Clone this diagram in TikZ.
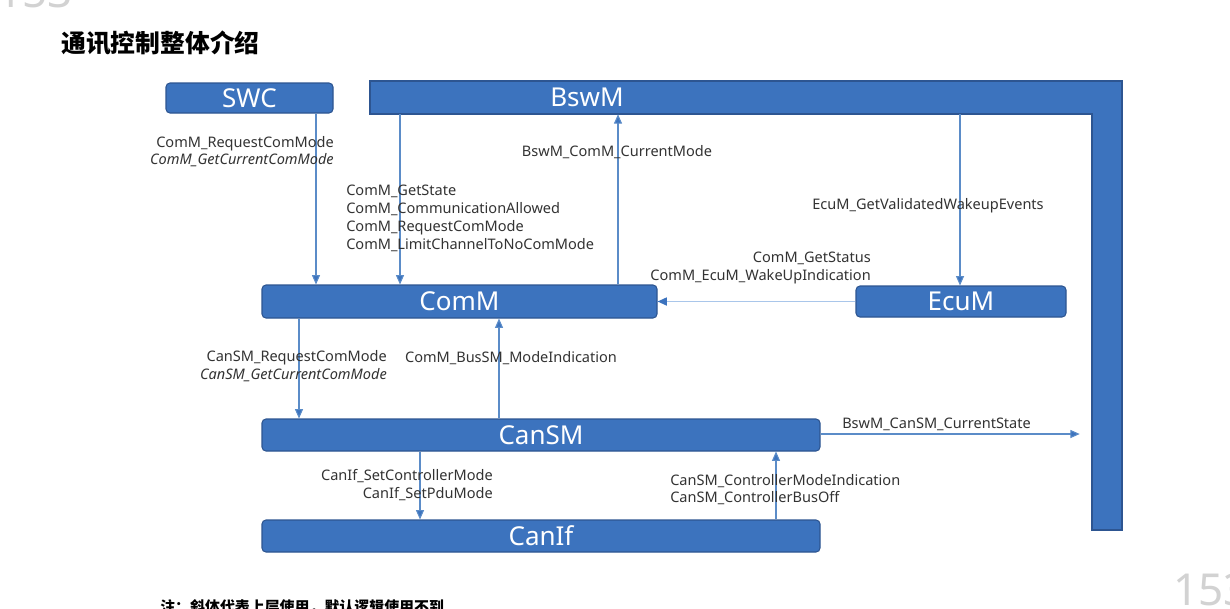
\documentclass[tikz,border=0pt]{standalone}
\usepackage{fontspec}
\setmainfont{Noto Sans}
\newfontfamily\cjk{Noto Sans CJK SC}
\usetikzlibrary{arrows.meta}
\definecolor{boxblue}{HTML}{3C73BE}
\definecolor{boxedge}{HTML}{2D5591}
\definecolor{linkblue}{HTML}{5B8CC8}
\definecolor{linklight}{HTML}{A9C6EA}
\definecolor{txt}{HTML}{333333}
\tikzset{
  box/.style={draw=boxedge, line width=0.8pt, fill=boxblue, rounded corners=3pt, text=white,
    font=\fontsize{19.5}{19.5}\selectfont, inner sep=0pt},
  anchorbox/.style={draw=none, inner sep=0pt},
  arr/.style={draw=linkblue, line width=0.8pt, -{Triangle[length=7pt,width=6pt,fill=boxblue]}},
  arrlight/.style={draw=linklight, line width=1.3pt, -{Triangle[length=7pt,width=6pt,fill=boxblue,color=boxblue]}},
  lbl/.style={text=txt, inner sep=0pt, font=\fontsize{10.9}{12.9}\selectfont},
  lblw/.style={text=txt, inner sep=0pt, font=\fontsize{10.9}{13.5}\selectfont},
}
\begin{document}
\begin{tikzpicture}[x=0.75pt, y=-0.75pt]
\useasboundingbox (0,0) rectangle (1230,608);
\fill[white] (0,0) rectangle (1230,608);
\begin{scope}
\clip (0,0) rectangle (1230,608);
% slide page numbers
\node[anchor=south west, inner sep=0pt, text=gray!35, font=\fontsize{33}{33}\selectfont] (pgtop) at (-3,8) {153};
\node[anchor=north west, inner sep=0pt, text=gray!35, font=\fontsize{33}{33}\selectfont] (pgbot) at (1173,573) {153};
% note at bottom
\node[anchor=west, inner sep=0pt, text=black, font=\cjk\bfseries\fontsize{11.2}{12}\selectfont] (note) at (160,607) {注：斜体代表上层使用，默认逻辑使用不到};
\end{scope}

% title
\node[anchor=west, inner sep=0pt, font=\cjk\bfseries\fontsize{18.6}{20}\selectfont] (title) at (61,43) {通讯控制整体介绍};

% BswM L-shaped bar
\fill[boxblue, draw=boxedge, line width=0.8pt] (370,81) -- (1122,81) -- (1122,530) -- (1092,530) -- (1092,114) -- (370,114) -- cycle;
\node[anchorbox, minimum width=564pt, minimum height=24.75pt] (bswm) at (746,97.5) {};
\node[anchorbox, minimum width=22.5pt, minimum height=312pt] (bswmv) at (1107,322) {};
\node[inner sep=0pt, text=white, font=\fontsize{19.5}{19.5}\selectfont] (bswmtext) at (587,97.5) {BswM};

% boxes
\node[box, minimum width=125.25pt, minimum height=22.5pt] (swc) at (249.5,98) {SWC};
\node[box, minimum width=296.25pt, minimum height=24.75pt] (comm) at (459.5,301.5) {ComM};
\node[box, minimum width=157.5pt, minimum height=23.25pt] (ecum) at (961,301.5) {EcuM};
\node[box, minimum width=418.5pt, minimum height=24pt] (cansm) at (541,435) {CanSM};
\node[box, minimum width=418.5pt, minimum height=24pt] (canif) at (541,536) {CanIf};

% x positions of vertical connectors
\coordinate (xa) at (316,0);
\coordinate (xb) at (400,0);
\coordinate (xc) at (618,0);
\coordinate (xd) at (960,0);
\coordinate (xe) at (299,0);
\coordinate (xf) at (499,0);
\coordinate (xg) at (420,0);
\coordinate (xh) at (776,0);
\coordinate (yk) at (0,434);

% connectors
\draw[arr] (swc.south -| xa) -- (comm.north -| xa);
\draw[arr] (bswm.south -| xb) -- (comm.north -| xb);
\draw[arr] (comm.north -| xc) -- (bswm.south -| xc);
\draw[arr] (bswm.south -| xd) -- (ecum.north -| xd);
\draw[arrlight] (ecum.west) -- (comm.east);
\draw[arr] (comm.south -| xe) -- (cansm.north -| xe);
\draw[arr] (cansm.north -| xf) -- (comm.south -| xf);
\draw[arr, shorten >=9pt] (cansm.east |- yk) -- (bswmv.west |- yk);
\draw[arr] (cansm.south -| xg) -- (canif.north -| xg);
\draw[arr] (canif.north -| xh) -- (cansm.south -| xh);

% labels
\node[lbl, anchor=east, align=right] (l1) at (334,151.5) {ComM\_RequestComMode\\\textit{ComM\_GetCurrentComMode}};
\node[lblw, anchor=west, align=left] (l2) at (346,218) {ComM\_GetState\\ComM\_CommunicationAllowed\\ComM\_RequestComMode\\ComM\_LimitChannelToNoComMode};
\node[lbl] (l3) at (617,152) {BswM\_ComM\_CurrentMode};
\node[lbl] (l4) at (928,206) {EcuM\_GetValidatedWakeupEvents};
\node[lblw, anchor=east, align=right] (l5) at (871,268) {ComM\_GetStatus\\ComM\_EcuM\_WakeUpIndication};
\node[lblw, anchor=east, align=right] (l6) at (387,366) {CanSM\_RequestComMode\\\textit{CanSM\_GetCurrentComMode}};
\node[lbl] (l7) at (511,358) {ComM\_BusSM\_ModeIndication};
\node[lbl, anchor=west] (l8) at (842,424) {BswM\_CanSM\_CurrentState};
\node[lblw, anchor=east, align=right] (l9) at (493,485) {CanIf\_SetControllerMode\\CanIf\_SetPduMode};
\node[lbl, anchor=west, align=left] (l10) at (670,489.5) {CanSM\_ControllerModeIndication\\CanSM\_ControllerBusOff};
\end{tikzpicture}
\end{document}
